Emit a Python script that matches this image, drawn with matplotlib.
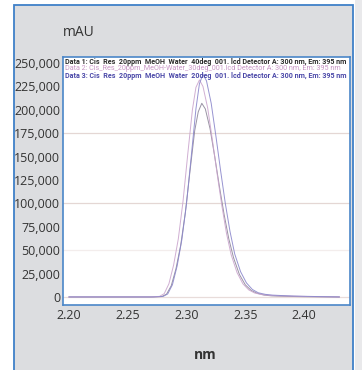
import matplotlib
matplotlib.use("Agg")
import matplotlib.pyplot as plt
from matplotlib.patches import Rectangle

# retention axis (labelled nm on the instrument export) and intensity in mAU
x1 = [2.200, 2.270, 2.279, 2.283, 2.287, 2.291, 2.295, 2.299, 2.303, 2.307,
      2.310, 2.313, 2.316, 2.320, 2.324, 2.328, 2.332, 2.336, 2.340, 2.345,
      2.350, 2.355, 2.360, 2.366, 2.372, 2.380, 2.390, 2.400, 2.410, 2.430]
y1 = [0, 0, 500, 3000, 12000, 30000, 55000, 90000, 135000, 178000,
      198000, 207000, 201000, 180000, 150000, 118000, 88000, 62000, 42000, 24000,
      13000, 7000, 4000, 2000, 1200, 800, 500, 300, 200, 0]

x2 = [2.200, 2.268, 2.277, 2.281, 2.285, 2.289, 2.293, 2.297, 2.301, 2.305,
      2.308, 2.311, 2.314, 2.318, 2.322, 2.326, 2.330, 2.334, 2.338, 2.343,
      2.348, 2.353, 2.358, 2.364, 2.370, 2.378, 2.388, 2.398, 2.410, 2.430]
y2 = [0, 0, 600, 3500, 14000, 34000, 62000, 102000, 152000, 200000,
      224000, 232000, 225000, 202000, 168000, 132000, 98000, 68000, 45000, 26000,
      14000, 7500, 4200, 2500, 1800, 1200, 900, 600, 300, 0]

x3 = [2.200, 2.272, 2.280, 2.284, 2.288, 2.292, 2.296, 2.300, 2.304, 2.308,
      2.311, 2.314, 2.317, 2.321, 2.325, 2.329, 2.333, 2.337, 2.341, 2.346,
      2.351, 2.356, 2.361, 2.367, 2.373, 2.381, 2.391, 2.401, 2.412, 2.430]
y3 = [0, 0, 500, 3200, 13000, 33000, 61000, 100000, 150000, 201000,
      228000, 238000, 231000, 207000, 172000, 135000, 100000, 70000, 46000, 27000,
      15000, 8000, 4500, 2800, 2000, 1500, 1000, 700, 400, 0]

labels = [
    "Data 1: Cis  Res  20ppm  MeOH  Water  40deg  001. lcd Detector A: 300 nm, Em: 395 nm",
    "Data 2: Cis_Res_20ppm_MeOH-Water_30deg_001.lcd Detector A: 300 nm, Em: 395 nm",
    "Data 3: Cis  Res  20ppm  MeOH  Water  20deg  001. lcd Detector A: 300 nm, Em: 395 nm",
]
label_colors = ["#2a2a2a", "#c896c6", "#4a48a8"]
line_colors = ["#8e879a", "#cba6ce", "#8c88cc"]

yticks = list(range(0, 250001, 25000))
xticks = [2.20, 2.25, 2.30, 2.35, 2.40]

W, H = 362, 370
fig = plt.figure(figsize=(W / 100, H / 100), dpi=100)
fig.patch.set_facecolor("white")


def px(x0, y0, x1_, y1_):
    # pixel box (top-left origin) -> figure fraction rect
    return [x0 / W, 1 - y1_ / H, (x1_ - x0) / W, (y1_ - y0) / H]


# outer grey panel with blue frame, and the shadow strip to its right
fig.patches.append(Rectangle((355 / W, 0), 7 / W, 1, transform=fig.transFigure,
                             facecolor="#e9e9eb", edgecolor="none", zorder=-2))
r = px(14, 5, 353, 372)
fig.patches.append(Rectangle((r[0], r[1]), r[2], r[3], transform=fig.transFigure,
                             facecolor="#dcdde0", edgecolor="#3f80c8", linewidth=1.3, zorder=-1))

ax = fig.add_axes(px(63, 57, 350, 305))
ax.set_zorder(2)
ax.set_facecolor("white")
for s in ax.spines.values():
    s.set_color("#4a86c8")
    s.set_linewidth(1.2)

for yv, a in [(0, 0.6), (50000, 0.3), (100000, 0.7), (175000, 0.7)]:
    ax.axhline(yv, color="#d9c6c2", lw=0.9, alpha=a, zorder=1)

for xs, ys, c in zip([x1, x2, x3], [y1, y2, y3], line_colors):
    ax.plot(xs, ys, color=c, lw=0.7, alpha=0.9, zorder=2)

ax.set_xlim(2.1949, 2.4391)
ax.set_ylim(-8600, 256500)
ax.set_yticks(yticks)
ax.set_yticklabels([f"{v:,}" for v in yticks])
ax.set_xticks(xticks)
ax.set_xticklabels([f"{v:.2f}" for v in xticks])
ax.tick_params(length=0, labelsize=9, colors="#333333", pad=2)
for t in ax.get_xticklabels() + ax.get_yticklabels():
    t.set_family("Open Sans")
ax.tick_params(axis="x", pad=3)

fig.text(63 / W, 1 - 33 / H, "mAU", ha="left", va="center", fontsize=10,
         family="Open Sans", color="#333333")
fig.text(205 / W, 1 - 355 / H, "nm", ha="center", va="center", fontsize=10,
         family="Open Sans", weight="bold", color="#333333")

# detector legend lines, scaled to span the plot width
fig.canvas.draw()
renderer = fig.canvas.get_renderer()
target = 277
for i, (txt, c) in enumerate(zip(labels, label_colors)):
    t = fig.text(65 / W, 1 - (62 + i * 7) / H, txt, ha="left", va="center",
                 fontsize=4.5, color=c, family=["Roboto", "DejaVu Sans"],
                 weight="bold" if i != 1 else "normal", zorder=5)
    w = t.get_window_extent(renderer).width
    t.set_fontsize(min(4.5 * target / w, 5.6))

fig.savefig("out.png", dpi=100)
